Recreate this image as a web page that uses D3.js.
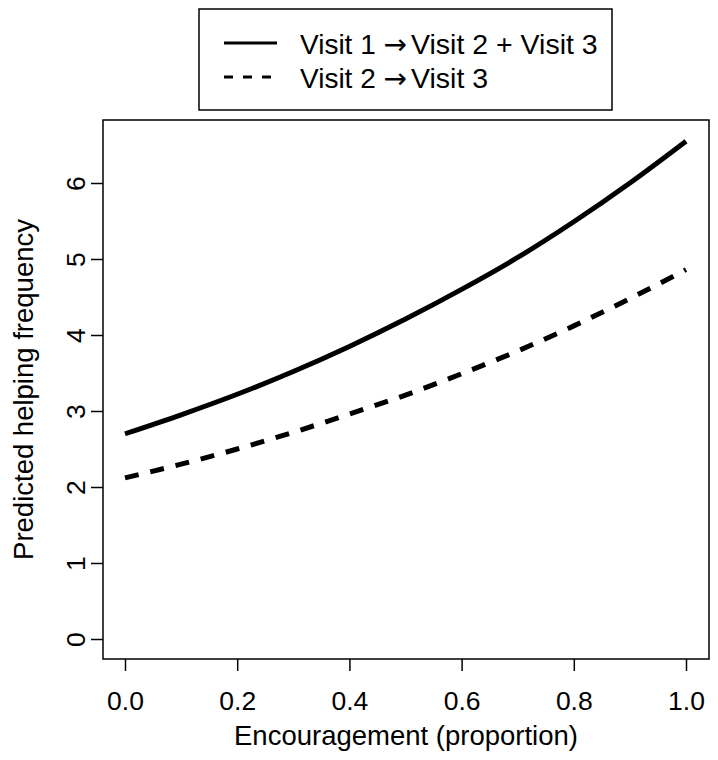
<!DOCTYPE html>
<html>
<head>
<meta charset="utf-8">
<script src="https://cdn.jsdelivr.net/npm/d3@7"></script>
<style>
  html, body { margin: 0; padding: 0; background: #fff; }
  svg { display: block; }
  text { font-family: "Liberation Sans", Arial, sans-serif; fill: #000; }
</style>
</head>
<body>
<svg id="chart" width="718" height="760"></svg>
<script>
// ---- data ----
const encouragement = [0.0, 0.1, 0.2, 0.3, 0.4, 0.5, 0.6, 0.7, 0.8, 0.9, 1.0];
const visit1to23 = [2.70, 2.95, 3.22, 3.52, 3.85, 4.21, 4.60, 5.02, 5.49, 6.00, 6.55];
const visit2to3  = [2.12, 2.30, 2.50, 2.72, 2.96, 3.21, 3.49, 3.79, 4.12, 4.48, 4.86];
const xTicks = [0.0, 0.2, 0.4, 0.6, 0.8, 1.0];
const yTicks = [0, 1, 2, 3, 4, 5, 6];
// legend labels: [from, to]
const seriesFrom = ["Visit 1", "Visit 2"];
const seriesTo = ["Visit 2 + Visit 3", "Visit 3"];
const xLabel = "Encouragement (proportion)";
const yLabel = "Predicted helping frequency";

const svg = d3.select("#chart");
const box = { left: 103, right: 709, top: 120, bottom: 659 };

const x = d3.scaleLinear().domain([0, 1]).range([125, 686]);
const y = d3.scaleLinear().domain([0, 6]).range([639, 183]);

// plot box
svg.append("rect")
  .attr("x", box.left).attr("y", box.top)
  .attr("width", box.right - box.left).attr("height", box.bottom - box.top)
  .attr("fill", "none").attr("stroke", "#000").attr("stroke-width", 1.5);

// x axis
const xAxis = svg.append("g").attr("transform", `translate(0,${box.bottom})`)
  .call(d3.axisBottom(x).tickValues(xTicks).tickFormat(d3.format(".1f")).tickSize(12).tickSizeOuter(0));
xAxis.select(".domain").attr("stroke-opacity", 0);
xAxis.selectAll(".tick line").attr("stroke", "#000").attr("stroke-width", 1.5);
xAxis.selectAll(".tick text")
  .attr("y", 51).attr("dy", 0)
  .style("font-size", "26.5px").style("font-family", "Liberation Sans, Arial, sans-serif");

// y axis
const yAxis = svg.append("g").attr("transform", `translate(${box.left},0)`)
  .call(d3.axisLeft(y).tickValues(yTicks).tickFormat(d3.format("d")).tickSize(12).tickSizeOuter(0));
yAxis.select(".domain").attr("stroke-opacity", 0);
yAxis.selectAll(".tick line").attr("stroke", "#000").attr("stroke-width", 1.5);
yAxis.selectAll(".tick text")
  .attr("x", 0).attr("dy", 0)
  .attr("text-anchor", "middle")
  .attr("transform", "translate(-18,0) rotate(-90)")
  .style("font-size", "26.5px").style("font-family", "Liberation Sans, Arial, sans-serif");

// axis labels
svg.append("text")
  .attr("x", (box.left + box.right) / 2).attr("y", 745)
  .attr("text-anchor", "middle").style("font-size", "27.5px")
  .text(xLabel);
svg.append("text")
  .attr("transform", `translate(33,${(box.top + box.bottom) / 2}) rotate(-90)`)
  .attr("text-anchor", "middle").style("font-size", "27.5px")
  .text(yLabel);

// lines
const pts1 = encouragement.map((e, i) => [e, visit1to23[i]]);
const pts2 = encouragement.map((e, i) => [e, visit2to3[i]]);
const line = d3.line().x(d => x(d[0])).y(d => y(d[1])).curve(d3.curveMonotoneX);

svg.append("path").attr("d", line(pts1))
  .attr("fill", "none").attr("stroke", "#000").attr("stroke-width", 5);
svg.append("path").attr("d", line(pts2))
  .attr("fill", "none").attr("stroke", "#000").attr("stroke-width", 5)
  .attr("stroke-dasharray", "14,12");

// legend
const leg = svg.append("g");
leg.append("rect").attr("x", 199).attr("y", 9).attr("width", 413).attr("height", 101)
  .attr("fill", "#fff").attr("stroke", "#000").attr("stroke-width", 1.5);
leg.append("line").attr("x1", 224).attr("x2", 277).attr("y1", 43).attr("y2", 43)
  .attr("stroke", "#000").attr("stroke-width", 3);
leg.append("line").attr("x1", 224).attr("x2", 277).attr("y1", 77).attr("y2", 77)
  .attr("stroke", "#000").attr("stroke-width", 3).attr("stroke-dasharray", "9,10");
[54, 88].forEach((yy, i) => {
  const t = leg.append("text").attr("x", 300).attr("y", yy).style("font-size", "28px");
  t.append("tspan").text(seriesFrom[i] + " ");
  t.append("tspan").attr("dx", 0).style("font-family", "DejaVu Sans").style("font-size", "28px").text("\u2192");
  t.append("tspan").attr("dx", 4).style("font-size", "28.5px").text(seriesTo[i]);
});
</script>
</body>
</html>
